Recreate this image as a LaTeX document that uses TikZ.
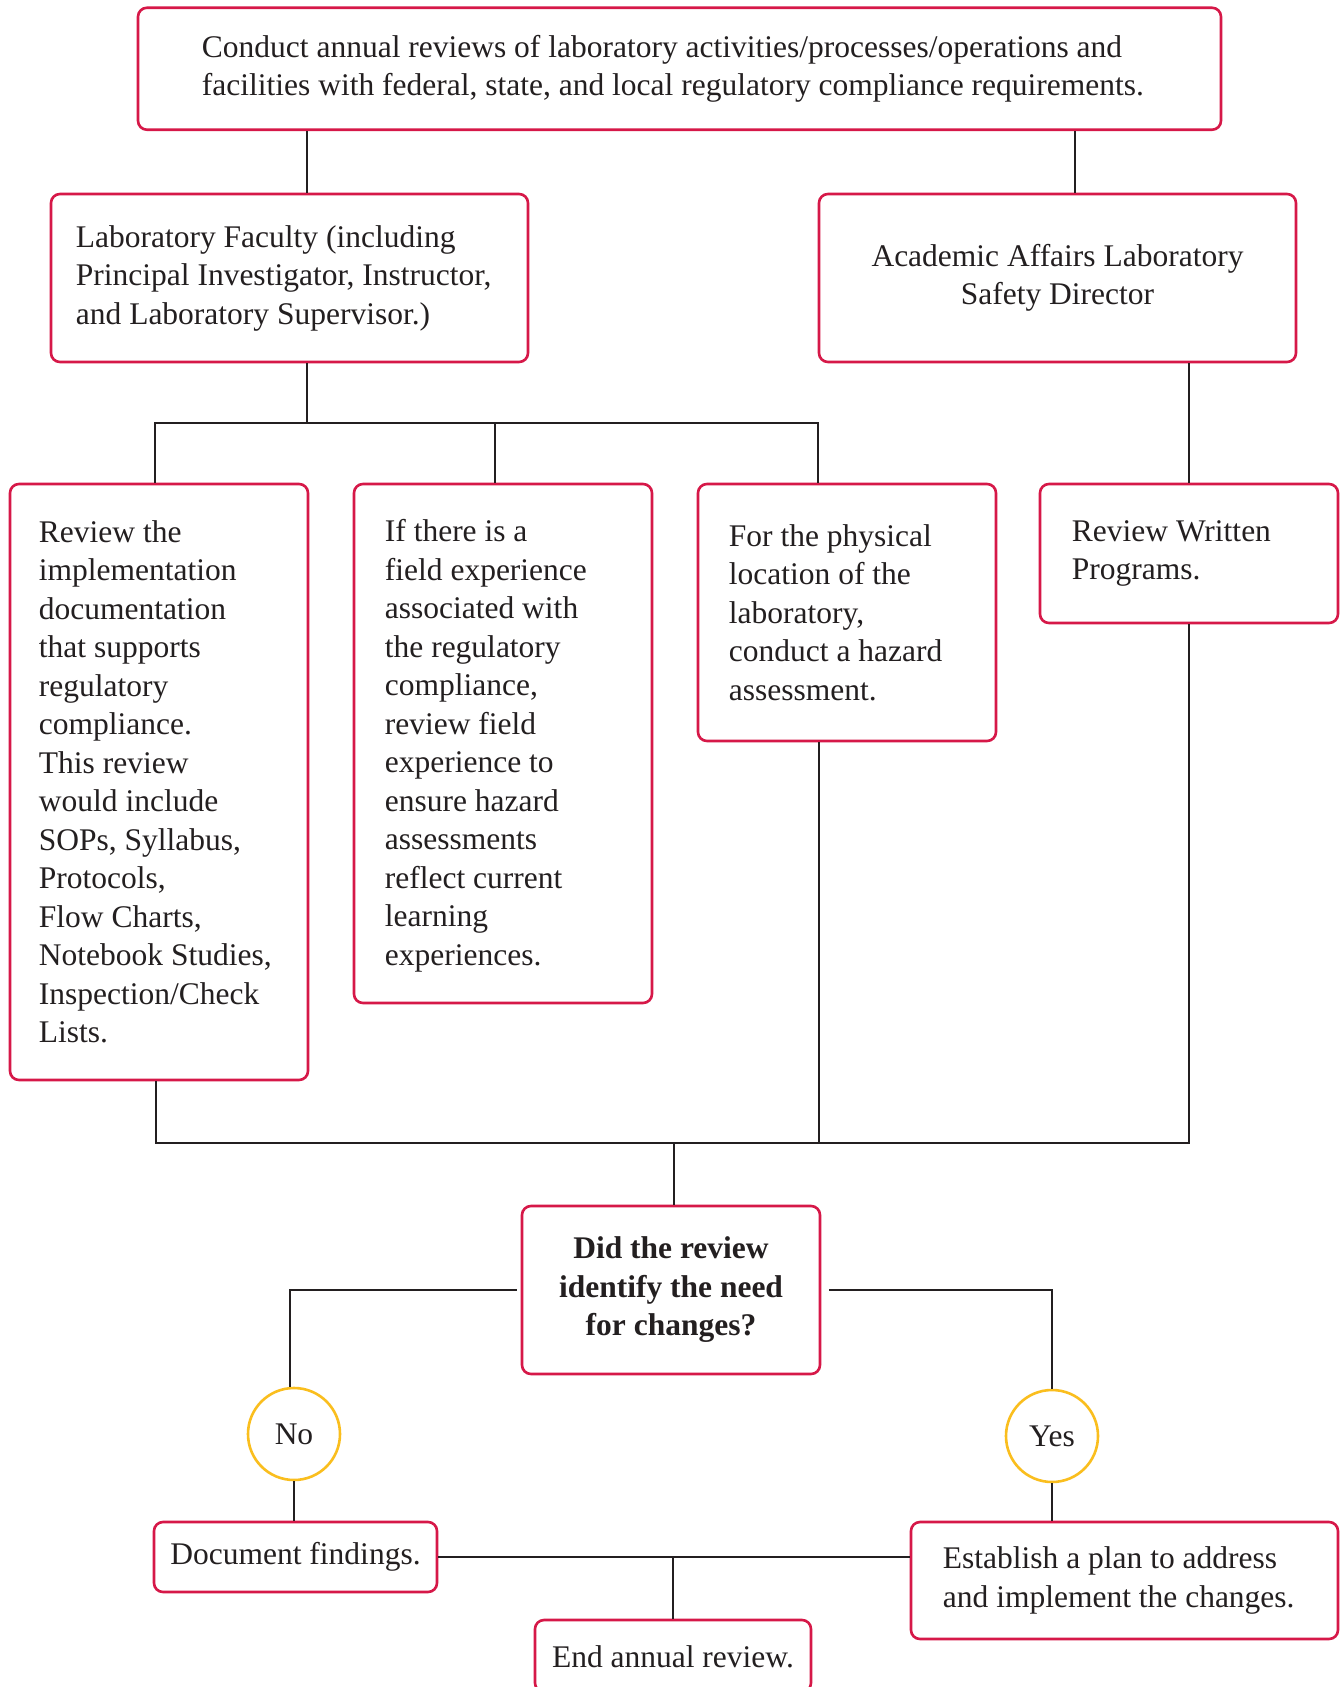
\documentclass[tikz,border=0pt]{standalone}
\usepackage{fontspec}
\setmainfont{Liberation Serif}
\definecolor{boxred}{RGB}{214,24,72}
\definecolor{yellowc}{RGB}{250,190,30}
\definecolor{linecol}{RGB}{35,31,32}
\begin{document}
\begin{tikzpicture}[x=1pt,y=-1pt,
  frame/.style={draw=boxred, line width=2.6pt, rounded corners=9pt, fill=white, inner sep=0pt},
  txt/.style={font=\fontsize{31.5}{38.5}\selectfont, text=linecol, inner sep=0pt},
  ltxt/.style={txt, align=left, anchor=west},
  ctxt/.style={txt, align=center},
  circ/.style={circle, draw=yellowc, line width=2.6pt, minimum size=92pt, inner sep=0pt,
    fill=white, text=linecol, font=\fontsize{31.5}{38.5}\selectfont},
  conn/.style={draw=linecol, line width=2.6pt}]
\useasboundingbox (0,0) rectangle (1343,1687);
\fill[white] (0,0) rectangle (1343,1687);

% frames
\node[frame, minimum width=1083pt, minimum height=122pt] (top) at (679.5,68.75) {};
\node[frame, minimum width=477pt, minimum height=168pt] (fac) at (289.5,278) {};
\node[frame, minimum width=477pt, minimum height=168pt] (aca) at (1057.5,278) {};
\node[frame, minimum width=298pt, minimum height=596pt] (b1) at (159,782) {};
\node[frame, minimum width=298pt, minimum height=519pt] (b2) at (503,743.5) {};
\node[frame, minimum width=298pt, minimum height=257pt] (b3) at (847,612.5) {};
\node[frame, minimum width=298pt, minimum height=139pt] (b4) at (1189,553.5) {};
\node[frame, minimum width=298pt, minimum height=168pt] (dec) at (671,1290) {};
\node[circ] (no) at (294,1434) {No};
\node[circ] (yes) at (1052,1436) {Yes};
\node[frame, minimum width=283pt, minimum height=70pt] (doc) at (295.5,1557) {};
\node[frame, minimum width=427pt, minimum height=117pt] (est) at (1124.5,1580.5) {};
\node[frame, minimum width=276pt, minimum height=72pt] (end) at (673,1656) {};

% texts
\node[ltxt] (topt) at ([xshift=65pt]top.west)
  {Conduct annual reviews of laboratory activities/processes/operations and\\facilities with federal, state, and local regulatory compliance requirements.};
\node[ltxt] (fact) at ([xshift=26pt]fac.west)
  {Laboratory Faculty (including\\Principal Investigator, Instructor,\\and Laboratory Supervisor.)};
\node[ctxt] (acat) at (aca.center) {Academic Affairs Laboratory\\Safety Director};
\node[ltxt] (b1t) at ([xshift=30pt]b1.west)
  {Review the\\implementation\\documentation\\that supports\\regulatory\\compliance.\\This review\\would include\\SOPs, Syllabus,\\Protocols,\\Flow Charts,\\Notebook Studies,\\Inspection/Check\\Lists.};
\node[ltxt] (b2t) at ([xshift=32pt,yshift=-2pt]b2.west)
  {If there is a\\field experience\\associated with\\the regulatory\\compliance,\\review field\\experience to\\ensure hazard\\assessments\\reflect current\\learning\\experiences.};
\node[ltxt] (b3t) at ([xshift=32pt]b3.west)
  {For the physical\\location of the\\laboratory,\\conduct a hazard\\assessment.};
\node[ltxt] (b4t) at ([xshift=33pt]b4.west) {Review Written\\Programs.};
\node[ctxt, font=\fontsize{31.5}{38.5}\selectfont\bfseries] (dect) at (dec.center)
  {Did the review\\identify the need\\for changes?};
\node[ctxt] (doct) at (doc.center) {Document findings.};
\node[ltxt] (estt) at ([xshift=33pt]est.west) {Establish a plan to address\\and implement the changes.};
\node[ctxt] (endt) at ([yshift=-1pt]end.center) {End annual review.};

% helper coordinates
\coordinate (xL) at (307,0);
\coordinate (xR) at (1075,0);
\coordinate (busA) at (307,423);
\coordinate (d1) at (155,423);
\coordinate (d2) at (495,423);
\coordinate (d3) at (818,423);
\coordinate (e1) at (156,1143);
\coordinate (e3) at (819,1143);
\coordinate (e4) at (1189,1143);
\coordinate (eD) at (674,1143);
\coordinate (aL) at (290,0);

% connectors
\draw[conn] (top.south -| xL) -- (fac.north -| xL);
\draw[conn] (top.south -| xR) -- (aca.north -| xR);
\draw[conn] (fac.south -| busA) -- (busA);
\draw[conn] (b1.north -| d1) -- (d1) -- (d3) -- (b3.north -| d3);
\draw[conn] (d2) -- (b2.north -| d2);
\draw[conn] (aca.south -| b4.north) -- (b4.north);
\draw[conn] (b1.south -| e1) -- (e1) -- (e4) -- (b4.south -| e4);
\draw[conn] (b3.south -| e3) -- (e3);
\draw[conn] (eD) -- (dec.north -| eD);
\draw[conn, shorten <=4pt] (dec.west) -- (dec.west -| aL) -- (no.north -| aL);
\draw[conn, shorten <=8pt] (dec.east) -- (dec.east -| yes.north) -- (yes.north);
\draw[conn] (no.south) -- (no.south |- doc.north);
\draw[conn] (yes.south) -- (yes.south |- est.north);
\draw[conn] (doc.east) -- (doc.east -| est.west);
\draw[conn] (doc.east -| end.north) -- (end.north);
\end{tikzpicture}
\end{document}
